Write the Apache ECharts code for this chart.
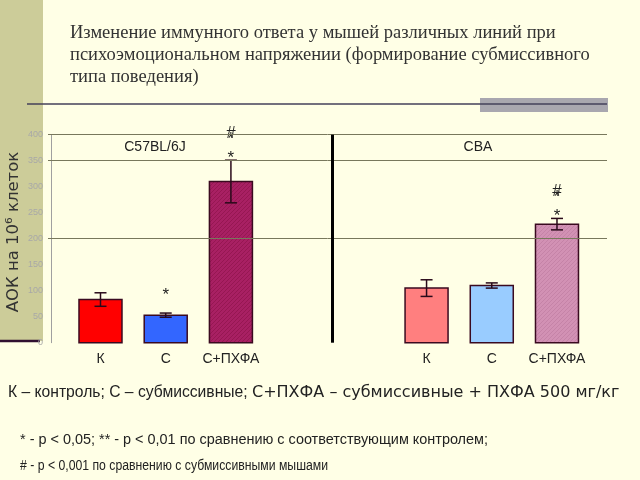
<!DOCTYPE html>
<html><head><meta charset="utf-8">
<script src="https://cdn.jsdelivr.net/npm/echarts@6/dist/echarts.min.js"></script>
<style>html,body{margin:0;padding:0;background:#FFFFE6;}#c{width:640px;height:480px;}</style>
</head><body><div id="c"></div>
<script>
// ---- data ----
const categories = ['К', 'С', 'С+ПХФА'];
const groups = ['C57BL/6J', 'CBA'];
const c57Means = [83, 53, 310];
const c57Errors = [13, 4, 41];
const cbaMeans = [105, 110, 228];
const cbaErrors = [16, 5, 11];
const c57Marks = ['', '*', '*#*'];
const cbaMarks = ['', '', '*#*'];
const yMin = 0, yMax = 400, yStep = 50;
const gridValues = [400, 350, 200];
const yName = 'АОК на 10⁶ клеток';
const titleText = 'Изменение иммунного ответа у мышей различных линий при\nпсихоэмоциональном напряжении (формирование субмиссивного\nтипа поведения)';
const legendA = 'К – контроль; С – субмиссивные; ';
const legendB = 'С+ПХФА – субмиссивные + ПХФА 500 мг/кг';
const note1 = '* - p < 0,05; ** - p < 0,01 по сравнению с соответствующим контролем;';
const note2 = '# - p < 0,001 по сравнению с субмиссивными мышами';

// ---- styles ----
const c57Colors = ['#FF0000', '#3366FF', ['#A82063', '#961752']];
const cbaColors = ['#FF7F7F', '#99CCFF', ['#D291B4', '#C583A7']];
const GAP = 2;
const BAR_W = 43;

function hatch(base, line) {
  const c = document.createElement('canvas');
  c.width = 4; c.height = 4;
  const g = c.getContext('2d');
  g.fillStyle = base; g.fillRect(0, 0, 4, 4);
  g.strokeStyle = line; g.lineWidth = 1;
  g.beginPath(); g.moveTo(0, 4); g.lineTo(4, 0); g.moveTo(-1, 1); g.lineTo(1, -1); g.moveTo(3, 5); g.lineTo(5, 3); g.stroke();
  return { image: c, repeat: 'repeat' };
}
const fillOf = c => Array.isArray(c) ? hatch(c[0], c[1]) : c;

function textWidth(text, font) {
  const g = document.createElement('canvas').getContext('2d');
  g.font = font; return g.measureText(text).width;
}

const slot = (g, i) => g * (categories.length + GAP) + i;
const allMeans = [c57Means, cbaMeans], allErr = [c57Errors, cbaErrors], allMarks = [c57Marks, cbaMarks], allColors = [c57Colors, cbaColors];
const barData = [], fills = [], markList = [], labelMap = {};
groups.forEach((g, gi) => {
  categories.forEach((c, i) => {
    const p = slot(gi, i);
    labelMap[p] = c;
    barData.push([p, allMeans[gi][i], allErr[gi][i]]);
    fills.push(fillOf(allColors[gi][i]));
    markList.push(allMarks[gi][i]);
  });
});
const dividerPos = (slot(0, categories.length - 1) + slot(1, 0)) / 2 + 0.06;

const fA = '16px "Liberation Sans"', fN = '14px "Liberation Sans"';
const sA = 244 / textWidth(legendA, fA);
const s1 = 468 / textWidth(note1, fN);
const s2 = 308 / textWidth(note2, fN);

const chart = echarts.init(document.getElementById('c'), null, { renderer: 'canvas' });
chart.setOption({
  backgroundColor: '#FFFFE6',
  animation: false,
  title: {
    text: titleText, left: 65, top: 17,
    textStyle: { fontFamily: 'Liberation Serif', fontSize: 18.5, fontWeight: 'normal', color: '#333', lineHeight: 22 }
  },
  grid: { left: 48, right: 33, top: 134.7, bottom: 480 - 342.7 },
  xAxis: {
    type: 'value', min: -0.805, max: 7.767,
    axisLine: { show: false }, axisTick: { show: false }, splitLine: { show: false },
    axisLabel: {
      customValues: Object.keys(labelMap).map(Number),
      formatter: v => labelMap[Math.round(v)] || '',
      color: '#222', fontFamily: 'Liberation Sans', fontSize: 14, margin: 9
    }
  },
  yAxis: {
    type: 'value', min: yMin, max: yMax, interval: yStep, offset: -3,
    axisLine: { show: true, onZero: false, lineStyle: { color: '#A0A0A0', width: 1 } },
    axisTick: { show: false }, splitLine: { show: false },
    axisLabel: { color: '#A8A8A8', fontFamily: 'Liberation Sans', fontSize: 9, margin: 8 }
  },
  graphic: { elements: [
    { type: 'rect', z: -10, shape: { x: 0, y: 0, width: 43, height: 341 }, style: { fill: '#CCCC99' } },
    { type: 'line', z: -9, shape: { x1: 0, y1: 341, x2: 40, y2: 341 }, style: { stroke: '#301030', lineWidth: 2.5 } },
    { type: 'rect', z: -9, shape: { x: 480, y: 98, width: 128, height: 14 }, style: { fill: '#A9A7AF' } },
    { type: 'line', z: -8, shape: { x1: 27, y1: 104, x2: 607, y2: 104 }, style: { stroke: '#45405A', lineWidth: 1.5 } },
    { type: 'text', x: 14, y: 232, rotation: Math.PI / 2, style: { text: yName, fontFamily: 'DejaVu Sans', fontSize: 16.5, fill: '#333', align: 'center', verticalAlign: 'middle' } },
    { type: 'text', x: 155, y: 147, style: { text: groups[0], fontFamily: 'Liberation Sans', fontSize: 14, fill: '#222', align: 'center', verticalAlign: 'middle' } },
    { type: 'text', x: 478, y: 147, style: { text: groups[1], fontFamily: 'Liberation Sans', fontSize: 14, fill: '#222', align: 'center', verticalAlign: 'middle' } },
    { type: 'text', x: 8, y: 393, scaleX: sA, style: { text: legendA, font: fA, fill: '#222', verticalAlign: 'middle' } },
    { type: 'text', x: 252, y: 393, style: { text: legendB, fontFamily: 'DejaVu Sans', fontSize: 16, fill: '#222', verticalAlign: 'middle' } },
    { type: 'text', x: 20, y: 440, scaleX: s1, style: { text: note1, font: fN, fill: '#222', verticalAlign: 'middle' } },
    { type: 'text', x: 20, y: 466, scaleX: s2, style: { text: note2, font: fN, fill: '#222', verticalAlign: 'middle' } }
  ] },
  series: [
    {
      type: 'custom', z: 1, silent: true, data: [],
      renderItem: () => null,
      markLine: {
        silent: true, symbol: 'none', label: { show: false },
        lineStyle: { color: '#78785C', width: 1, type: 'solid' },
        data: gridValues.map(v => ({ yAxis: v }))
      }
    },
    {
      type: 'custom', z: 2, silent: true, data: barData,
      renderItem: (params, api) => {
        const x = api.value(0), m = api.value(1);
        const t = api.coord([x, m]), b = api.coord([x, yMin]);
        return { type: 'rect', shape: { x: t[0] - BAR_W / 2, y: t[1], width: BAR_W, height: b[1] - t[1] },
          style: { fill: fills[params.dataIndex], stroke: '#3A0A20', lineWidth: 1.5 } };
      },
      markLine: {
        silent: true, symbol: 'none', label: { show: false },
        lineStyle: { color: '#000', width: 3, type: 'solid' },
        data: [[{ coord: [dividerPos, yMin] }, { coord: [dividerPos, yMax] }]]
      }
    },
    {
      type: 'custom', z: 3, silent: true, data: barData,
      renderItem: (params, api) => {
        const x = api.value(0), m = api.value(1), e = api.value(2);
        const t = api.coord([x, m + e]), b = api.coord([x, m - e]);
        const h = 6, st = { stroke: '#2A0A1A', lineWidth: 1.5 };
        return { type: 'group', children: [
          { type: 'line', shape: { x1: t[0], y1: t[1], x2: b[0], y2: b[1] }, style: st },
          { type: 'line', shape: { x1: t[0] - h, y1: t[1], x2: t[0] + h, y2: t[1] }, style: st },
          { type: 'line', shape: { x1: b[0] - h, y1: b[1], x2: b[0] + h, y2: b[1] }, style: st }
        ] };
      }
    },
    {
      type: 'custom', z: 4, silent: true, data: barData,
      renderItem: (params, api) => {
        const mk = markList[params.dataIndex];
        if (!mk) return null;
        const x = api.value(0), m = api.value(1), e = api.value(2);
        const t = api.coord([x, m + e]);
        const ts = (s, y) => ({ type: 'text', x: t[0], y: y, style: { text: s, fontFamily: 'Liberation Sans', fontSize: 17, fill: '#222', align: 'center', verticalAlign: 'middle' } });
        const ch = [];
        if (mk === '*') {
          ch.push(ts('*', t[1] - 18));
        } else {
          ch.push(ts('*', t[1] - 2));
          ch.push(ts('*', t[1] - 21));
          ch.push(ts('#', t[1] - 27));
        }
        return { type: 'group', children: ch };
      }
    }
  ]
});
</script></body></html>
